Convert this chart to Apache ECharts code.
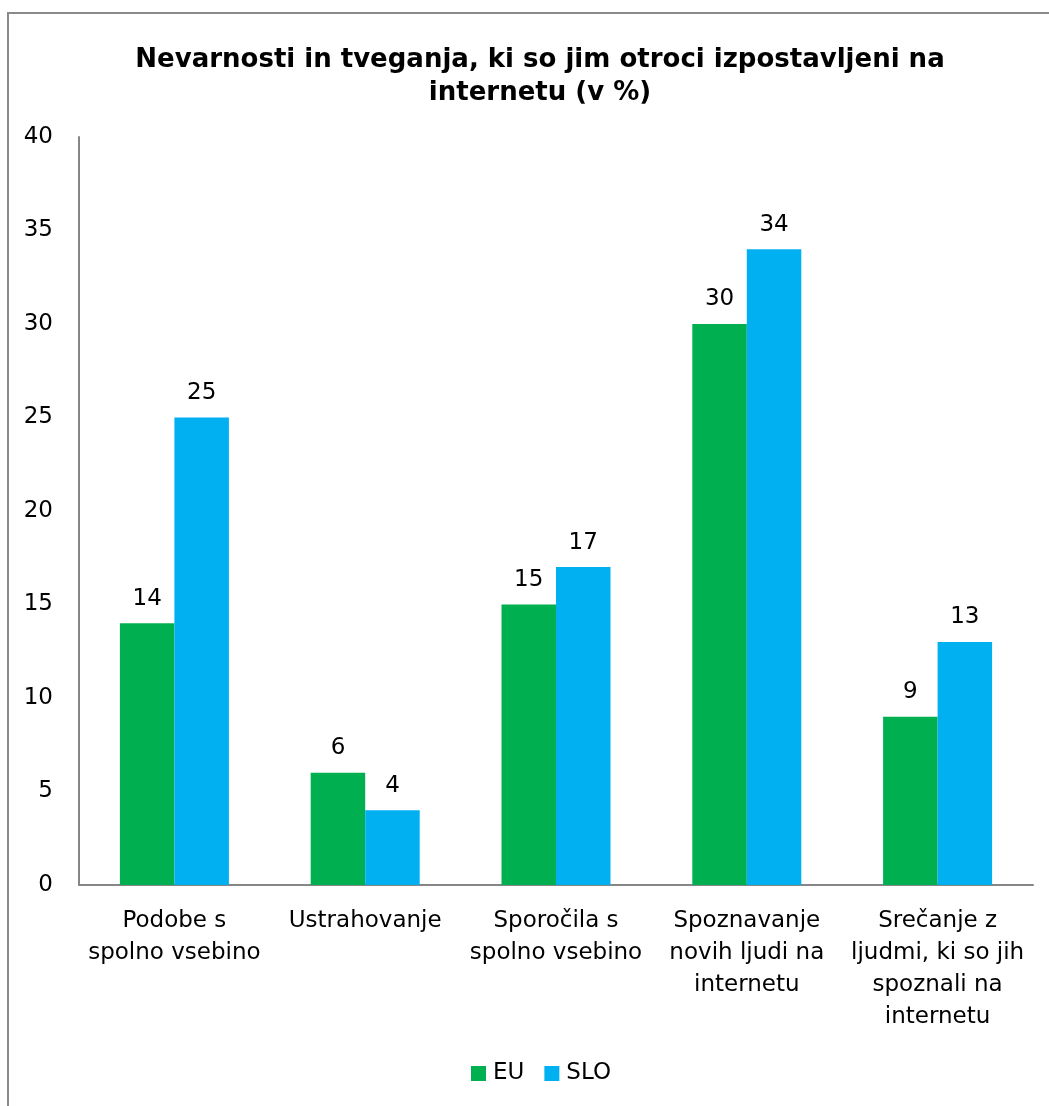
<!DOCTYPE html>
<html><head><meta charset="utf-8">
<script src="https://cdn.jsdelivr.net/npm/echarts@6/dist/echarts.min.js"></script>
<style>html,body{margin:0;padding:0;background:#fff}#c{width:1049px;height:1106px}</style>
</head><body><div id="c"></div>
<script>
const categories = ["Podobe s\nspolno vsebino", "Ustrahovanje", "Sporočila s\nspolno vsebino", "Spoznavanje\nnovih ljudi na\ninternetu", "Srečanje z\nljudmi, ki so jih\nspoznali na\ninternetu"];
const seriesNames = ["EU", "SLO"];
const euValues = [14, 6, 15, 30, 9];
const sloValues = [25, 4, 17, 34, 13];
const yMin = 0, yMax = 40, yInterval = 5;

const FONT = "DejaVu Sans";
const chart = echarts.init(document.getElementById('c'), null, {renderer: 'canvas'});
const labelCfg = {show: true, position: 'top', distance: 13, color: '#000', fontFamily: FONT, fontSize: 23};
chart.setOption({
  animation: false,
  textStyle: {fontFamily: FONT},
  graphic: [{type: 'rect', shape: {x: 8, y: 13, width: 1100, height: 1200}, style: {fill: 'none', stroke: '#8a8a8a', lineWidth: 2}, z: -1}],
  title: {
    text: "Nevarnosti in tveganja, ki so jim otroci izpostavljeni na\ninternetu (v %)",
    left: 535, top: 39, textAlign: 'center',
    textStyle: {fontFamily: FONT, fontSize: 26, fontWeight: 'bold', color: '#000', lineHeight: 33}
  },
  legend: {
    data: seriesNames, bottom: 16, left: 466, itemWidth: 15, itemHeight: 15, itemGap: 20, icon: 'rect',
    textStyle: {fontFamily: FONT, fontSize: 23, color: '#000', padding: [0,0,0,2]}
  },
  grid: {left: 79, right: 16, top: 137, bottom: 221, containLabel: false},
  xAxis: {
    type: 'category', data: categories,
    axisLine: {lineStyle: {color: '#868686', width: 2}},
    axisTick: {show: false},
    axisLabel: {interval: 0, color: '#000', fontFamily: FONT, fontSize: 23, lineHeight: 32, margin: 20}
  },
  yAxis: {
    type: 'value', min: yMin, max: yMax, interval: yInterval,
    axisLine: {show: true, lineStyle: {color: '#868686', width: 2}},
    axisTick: {show: false},
    splitLine: {show: false},
    axisLabel: {color: '#000', fontFamily: FONT, fontSize: 23, margin: 26}
  },
  series: [
    {name: seriesNames[0], type: 'bar', data: euValues, barWidth: 54.5, barGap: '0%', itemStyle: {color: '#00B050'}, label: labelCfg},
    {name: seriesNames[1], type: 'bar', data: sloValues, barWidth: 54.5, barGap: '0%', itemStyle: {color: '#00B0F0'}, label: labelCfg}
  ]
});
</script></body></html>
